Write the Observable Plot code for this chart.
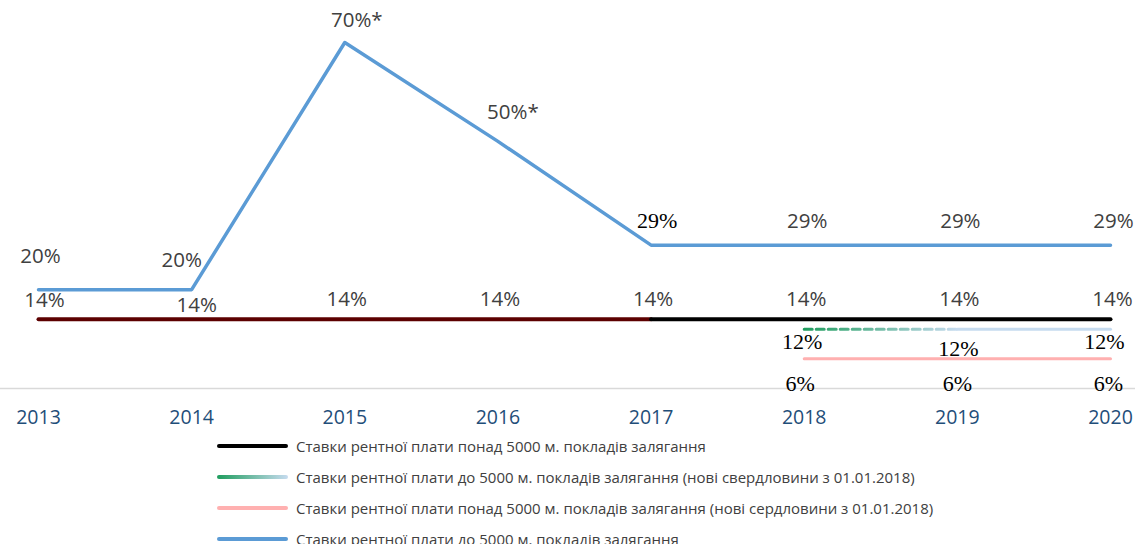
<!DOCTYPE html>
<html>
<head>
<meta charset="utf-8">
<script src="https://cdn.jsdelivr.net/npm/d3@7"></script>
<script src="https://cdn.jsdelivr.net/npm/@observablehq/plot@0.6"></script>
<style>
  html, body { margin: 0; padding: 0; background: #fff; overflow: hidden; }
  #chart svg { display: block; }
  .legend { margin-left: 217px; font-family: "Open Sans", sans-serif; font-size: 15px; color: #404040; white-space: nowrap; }
  .legend .row { display: flex; align-items: center; height: 31px; }
  .legend .sw { width: 71px; height: 4px; border-radius: 2px; margin-right: 8px; flex: none; }
</style>
</head>
<body>
<div id="chart"></div>
<div class="legend" id="legend"></div>
<script>
const years = [2013, 2014, 2015, 2016, 2017, 2018, 2019, 2020];
const shallowRates = [20, 20, 70, 50, 29, 29, 29, 29];
const shallowLabels = ["20%", "20%", "70%*", "50%*", "29%", "29%", "29%", "29%"];
const deepRates = [14, 14, 14, 14, 14, 14, 14, 14];
const newYears = [2018, 2019, 2020];
const newShallowRates = [12, 12, 12];
const newDeepRates = [6, 6, 6];
const legendLabels = [
  "Ставки рентної плати понад 5000 м. покладів залягання",
  "Ставки рентної плати до 5000 м. покладів залягання (нові свердловини з 01.01.2018)",
  "Ставки рентної плати понад 5000 м. покладів залягання (нові сердловини з 01.01.2018)",
  "Ставки рентної плати до 5000 м. покладів залягання"
];

const shallow = years.map((year, i) => ({year, rate: shallowRates[i], label: shallowLabels[i]}));
const deep = years.map((year, i) => ({year, rate: deepRates[i], label: deepRates[i] + "%"}));
const newShallow = newYears.map((year, i) => ({year, rate: newShallowRates[i], label: newShallowRates[i] + "%"}));
const newDeep = newYears.map((year, i) => ({year, rate: newDeepRates[i], label: newDeepRates[i] + "%"}));

const GREEN = "#1f9d5e";
const sans = {fontFamily: "Open Sans", fontSize: 20.5, fill: "#404040"};
const serif = {fontFamily: "Liberation Serif", fontSize: 22, fill: "#000"};
const lbl = (data, yrs, style, dx, dy) =>
  Plot.text(data.filter(d => yrs.includes(d.year)), {x: "year", y: "rate", text: "label", dx, dy, ...style});

const chart = Plot.plot({
  width: 1135,
  height: 430,
  marginLeft: 38,
  marginRight: 25,
  marginTop: 42,
  marginBottom: 42,
  x: {domain: [2013, 2020], axis: null, label: null},
  y: {domain: [0, 70], axis: null, label: null},
  marks: [
    Plot.ruleY([0], {stroke: "#d9d9d9", strokeWidth: 1.5, insetLeft: -38, insetRight: -25}),
    Plot.axisX({ticks: years, tickSize: 0, tickPadding: 22, label: null, tickFormat: d => String(d), fontSize: 19.5, fontFamily: "Open Sans", fill: "#1f4e79"}),
    Plot.line(deep.filter(d => d.year <= 2017), {x: "year", y: "rate", stroke: "#5c0000", strokeWidth: 4}),
    Plot.line(deep.filter(d => d.year >= 2017), {x: "year", y: "rate", stroke: "#000", strokeWidth: 4}),
    Plot.line(newShallow.filter(d => d.year <= 2019), {x: "year", y: "rate", stroke: GREEN, strokeWidth: 3, strokeDasharray: "8,4"}),
    Plot.line(newShallow.filter(d => d.year >= 2019), {x: "year", y: "rate", stroke: "#c6dbef", strokeWidth: 3}),
    Plot.line(newDeep, {x: "year", y: "rate", stroke: "#ffb0b0", strokeWidth: 3}),
    Plot.line(shallow, {x: "year", y: "rate", stroke: "#5b9bd5", strokeWidth: 3.5}),
    // blue series labels
    lbl(shallow, [2013], sans, 2, -33),
    lbl(shallow, [2014], sans, -10, -29),
    lbl(shallow, [2015], sans, 12, -22),
    lbl(shallow, [2016], sans, 15, -29),
    lbl(shallow, [2017], serif, 6, -24),
    lbl(shallow, [2018, 2019, 2020], sans, 3, -24),
    // deep 14% labels
    lbl(deep, [2013], sans, 6, -19),
    lbl(deep, [2014], sans, 5, -14),
    lbl(deep, [2015, 2016, 2017, 2018, 2019, 2020], sans, 2, -20),
    // new wells labels
    lbl(newShallow, [2018], serif, -2, 13),
    lbl(newShallow, [2019], serif, 1, 20),
    lbl(newShallow, [2020], serif, -6, 13),
    lbl(newDeep, [2018], serif, -4, 25),
    lbl(newDeep, [2019], serif, 0, 25),
    lbl(newDeep, [2020], serif, -2, 25)
  ]
});

// gradient for the dashed new-wells line, positioned with the plot's own x scale
const xs = chart.scale("x");
const ns = "http://www.w3.org/2000/svg";
const defs = document.createElementNS(ns, "defs");
const grad = document.createElementNS(ns, "linearGradient");
grad.setAttribute("id", "newGrad");
grad.setAttribute("gradientUnits", "userSpaceOnUse");
grad.setAttribute("x1", xs.apply(2018));
grad.setAttribute("x2", xs.apply(2019));
grad.setAttribute("y1", 0);
grad.setAttribute("y2", 0);
[["0", GREEN], ["1", "#c6dbef"]].forEach(([o, c]) => {
  const s = document.createElementNS(ns, "stop");
  s.setAttribute("offset", o);
  s.setAttribute("stop-color", c);
  grad.appendChild(s);
});
defs.appendChild(grad);
chart.insertBefore(defs, chart.firstChild);
chart.querySelectorAll(`[stroke="${GREEN}"]`).forEach(el => el.setAttribute("stroke", "url(#newGrad)"));

document.getElementById("chart").appendChild(chart);

const swatches = [
  "#000",
  `linear-gradient(to right, ${GREEN}, #c6dbef)`,
  "#ffb0b0",
  "#5b9bd5"
];
const legend = document.getElementById("legend");
legendLabels.forEach((t, i) => {
  const row = document.createElement("div");
  row.className = "row";
  const sw = document.createElement("div");
  sw.className = "sw";
  sw.style.background = swatches[i];
  const tx = document.createElement("span");
  tx.textContent = t;
  row.appendChild(sw);
  row.appendChild(tx);
  legend.appendChild(row);
});
</script>
</body>
</html>
